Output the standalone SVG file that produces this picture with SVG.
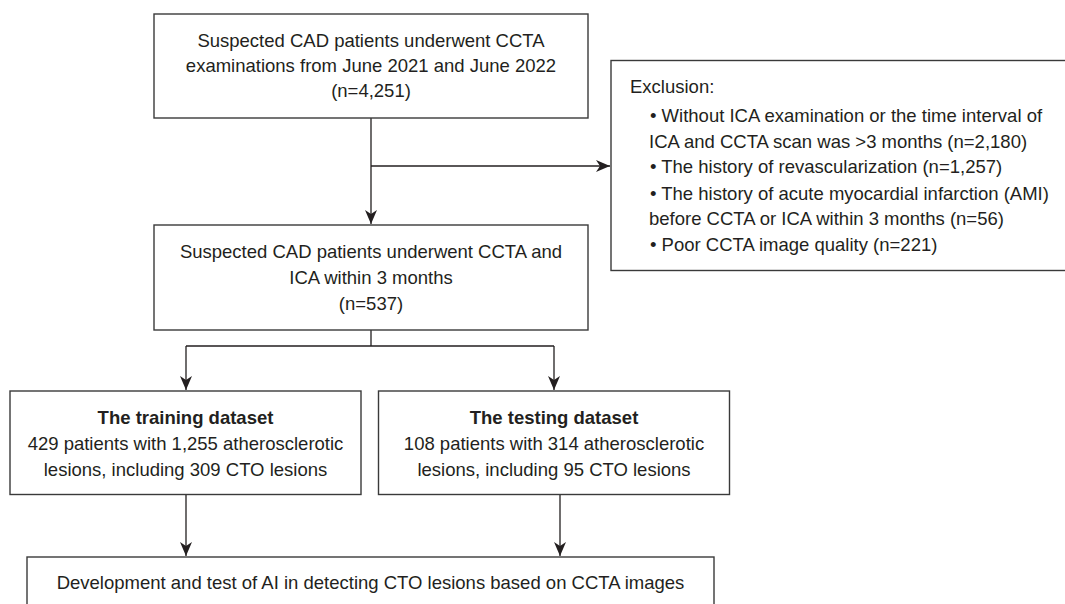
<svg xmlns="http://www.w3.org/2000/svg" width="1065" height="604" viewBox="0 0 1065 604">
<style>
.box{fill:#fff;stroke:#3a3a3a;stroke-width:1.4}
.t{font-family:"Liberation Sans",Arial,sans-serif;font-size:18.5px;fill:#231f20}
.c{text-anchor:middle}
.b{font-weight:bold}
.ln{fill:none;stroke:#231f20;stroke-width:1.3}
</style>
<defs>
<marker id="ah" markerUnits="userSpaceOnUse" markerWidth="16" markerHeight="14" viewBox="-15 -7 16 14" refX="0" refY="0" orient="auto">
<path d="M0,0 L-14,-6 L-10,0 L-14,6 Z" fill="#231f20"/>
</marker>
</defs>
<rect width="1065" height="604" fill="#fff"/>
<g id="connectors">
<path class="ln" d="M371,118 V224" marker-end="url(#ah)"/>
<path class="ln" d="M371,166 H610" marker-end="url(#ah)"/>
<path class="ln" d="M371,330 V346 M186,346 H554"/>
<path class="ln" d="M186,346 V390" marker-end="url(#ah)"/>
<path class="ln" d="M554,346 V390" marker-end="url(#ah)"/>
<path class="ln" d="M186,494 V556" marker-end="url(#ah)"/>
<path class="ln" d="M560,494 V556" marker-end="url(#ah)"/>
</g>
<g id="node-screened">
<rect class="box" x="154" y="14" width="434" height="104"/>
<text class="t c" x="371" y="46.5">Suspected CAD patients underwent CCTA</text>
<text class="t c" x="371" y="72">examinations from June 2021 and June 2022</text>
<text class="t c" x="371" y="97">(n=4,251)</text>
</g>
<g id="node-exclusion">
<rect class="box" x="611" y="60.5" width="470" height="210"/>
<text class="t" x="630" y="93">Exclusion:</text>
<text class="t" x="650" y="122">• Without ICA examination or the time interval of</text>
<text class="t" x="649" y="148">ICA and CCTA scan was &gt;3 months (n=2,180)</text>
<text class="t" x="650" y="173">• The history of revascularization (n=1,257)</text>
<text class="t" x="650" y="200">• The history of acute myocardial infarction (AMI)</text>
<text class="t" x="649" y="225">before CCTA or ICA within 3 months (n=56)</text>
<text class="t" x="650" y="251">• Poor CCTA image quality (n=221)</text>
</g>
<g id="node-included">
<rect class="box" x="154" y="225" width="434" height="105"/>
<text class="t c" x="371" y="258">Suspected CAD patients underwent CCTA and</text>
<text class="t c" x="371" y="284">ICA within 3 months</text>
<text class="t c" x="371" y="310">(n=537)</text>
</g>
<g id="node-training">
<rect class="box" x="10" y="391" width="351" height="103.5"/>
<text class="t c b" x="185.5" y="424">The training dataset</text>
<text class="t c" x="185.5" y="450">429 patients with 1,255 atherosclerotic</text>
<text class="t c" x="185.5" y="476">lesions, including 309 CTO lesions</text>
</g>
<g id="node-testing">
<rect class="box" x="378.5" y="391" width="351" height="103.5"/>
<text class="t c b" x="554" y="424">The testing dataset</text>
<text class="t c" x="554" y="450">108 patients with 314 atherosclerotic</text>
<text class="t c" x="554" y="476">lesions, including 95 CTO lesions</text>
</g>
<g id="node-development">
<rect class="box" x="27" y="557" width="687" height="60"/>
<text class="t c" x="370.5" y="589">Development and test of AI in detecting CTO lesions based on CCTA images</text>
</g>
</svg>
